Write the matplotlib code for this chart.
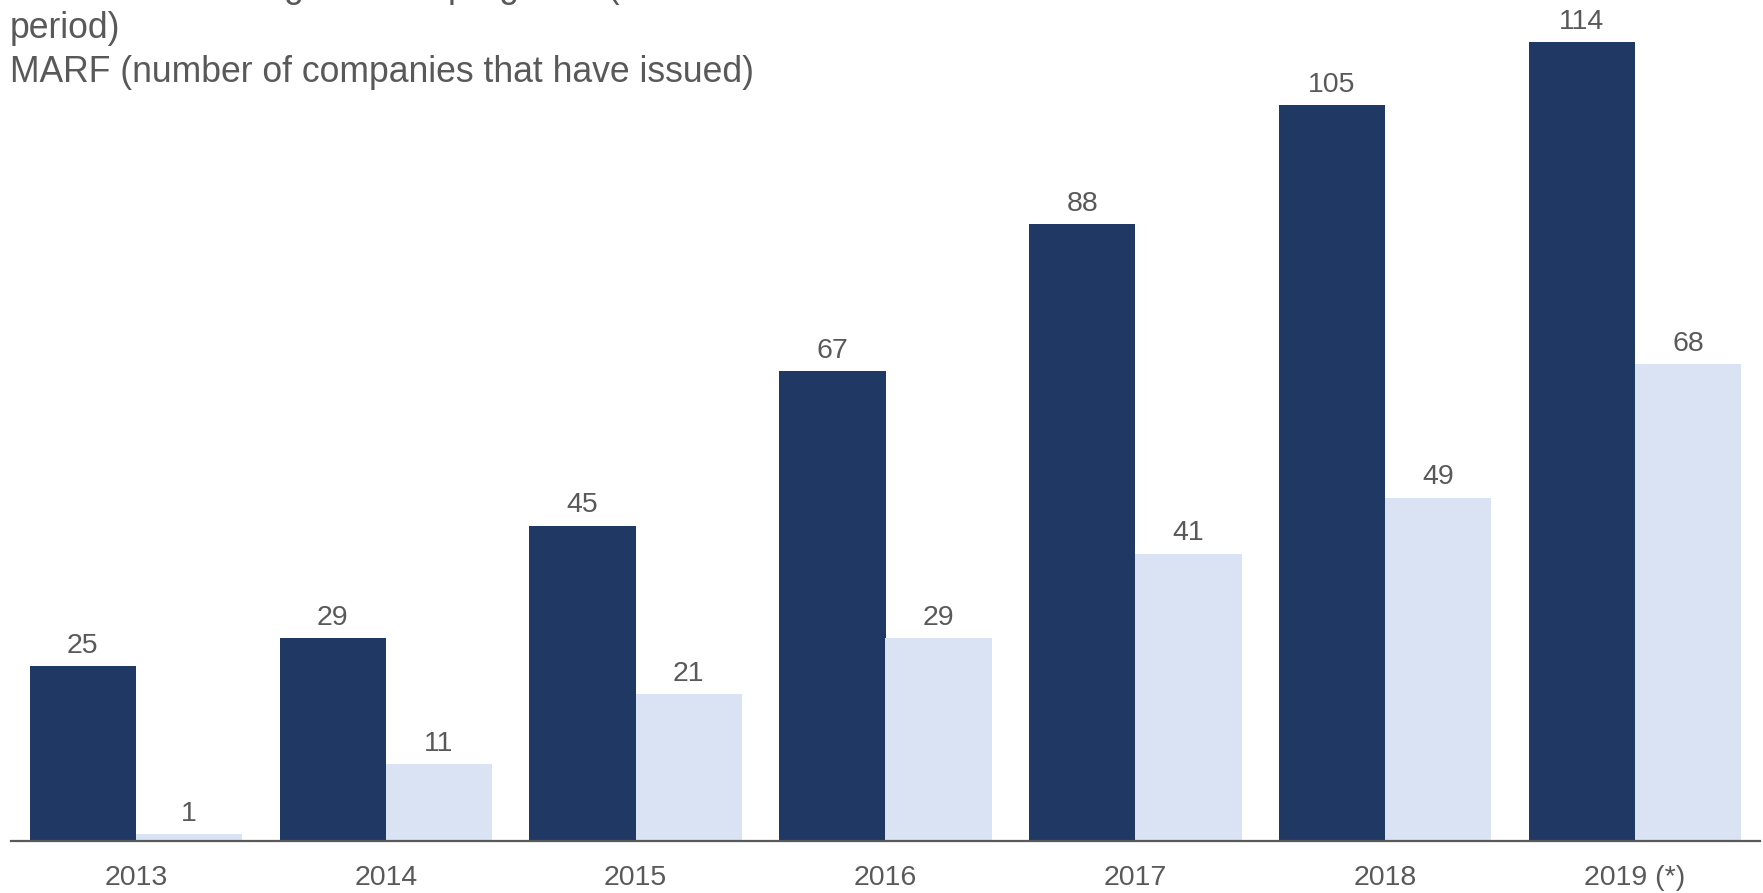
import matplotlib
matplotlib.use("Agg")
import matplotlib.pyplot as plt
import numpy as np

years = ["2013", "2014", "2015", "2016", "2017", "2018", "2019 (*)"]
programs = [25, 29, 45, 67, 88, 105, 114]
issuers = [1, 11, 21, 29, 41, 49, 68]

label_programs = "MARF outstanding balance programs (number at the end of the\nperiod)"
label_issuers = "MARF (number of companies that have issued)"

DARK = "#203864"
LIGHT = "#DAE3F3"
GREY = "#595959"

plt.rcParams["font.family"] = ["Liberation Sans", "DejaVu Sans"]

W, H = 1763, 893
fig = plt.figure(figsize=(W / 100, H / 100), dpi=100)
ax = fig.add_axes([11 / W, 1 - 841 / H, 1749 / W, 841 / H])

x = np.arange(len(years))
w = 0.425
b1 = ax.bar(x - w / 2, programs, width=w, color=DARK)
b2 = ax.bar(x + w / 2, issuers, width=w, color=LIGHT)

for bars, vals in ((b1, programs), (b2, issuers)):
    for rect, v in zip(bars, vals):
        ax.annotate(str(v), (rect.get_x() + rect.get_width() / 2, rect.get_height()),
                    xytext=(0, 9.5), textcoords="offset points",
                    ha="center", va="baseline", fontsize=20.5, color=GREY)

ax.set_xlim(-0.5, 6.5)
ax.set_ylim(0, 120)
ax.set_xticks(x)
ax.set_xticklabels(years, fontsize=20.5, color=GREY)
ax.tick_params(axis="x", length=0, pad=17)
ax.set_yticks([])
for side in ("top", "right", "left"):
    ax.spines[side].set_visible(False)
ax.spines["bottom"].set_color(GREY)
ax.spines["bottom"].set_linewidth(1.6)

# legend text, top-left (first line runs off the top of the canvas)
legend_lines = label_programs.split("\n") + [label_issuers]
baselines_px = [-2.6, 37.5, 81.5]
for txt, yb in zip(legend_lines, baselines_px):
    fig.text(10 / W, 1 - yb / H, txt, fontsize=25.6, color=GREY,
             ha="left", va="baseline")

fig.savefig("out.png", dpi=100)
